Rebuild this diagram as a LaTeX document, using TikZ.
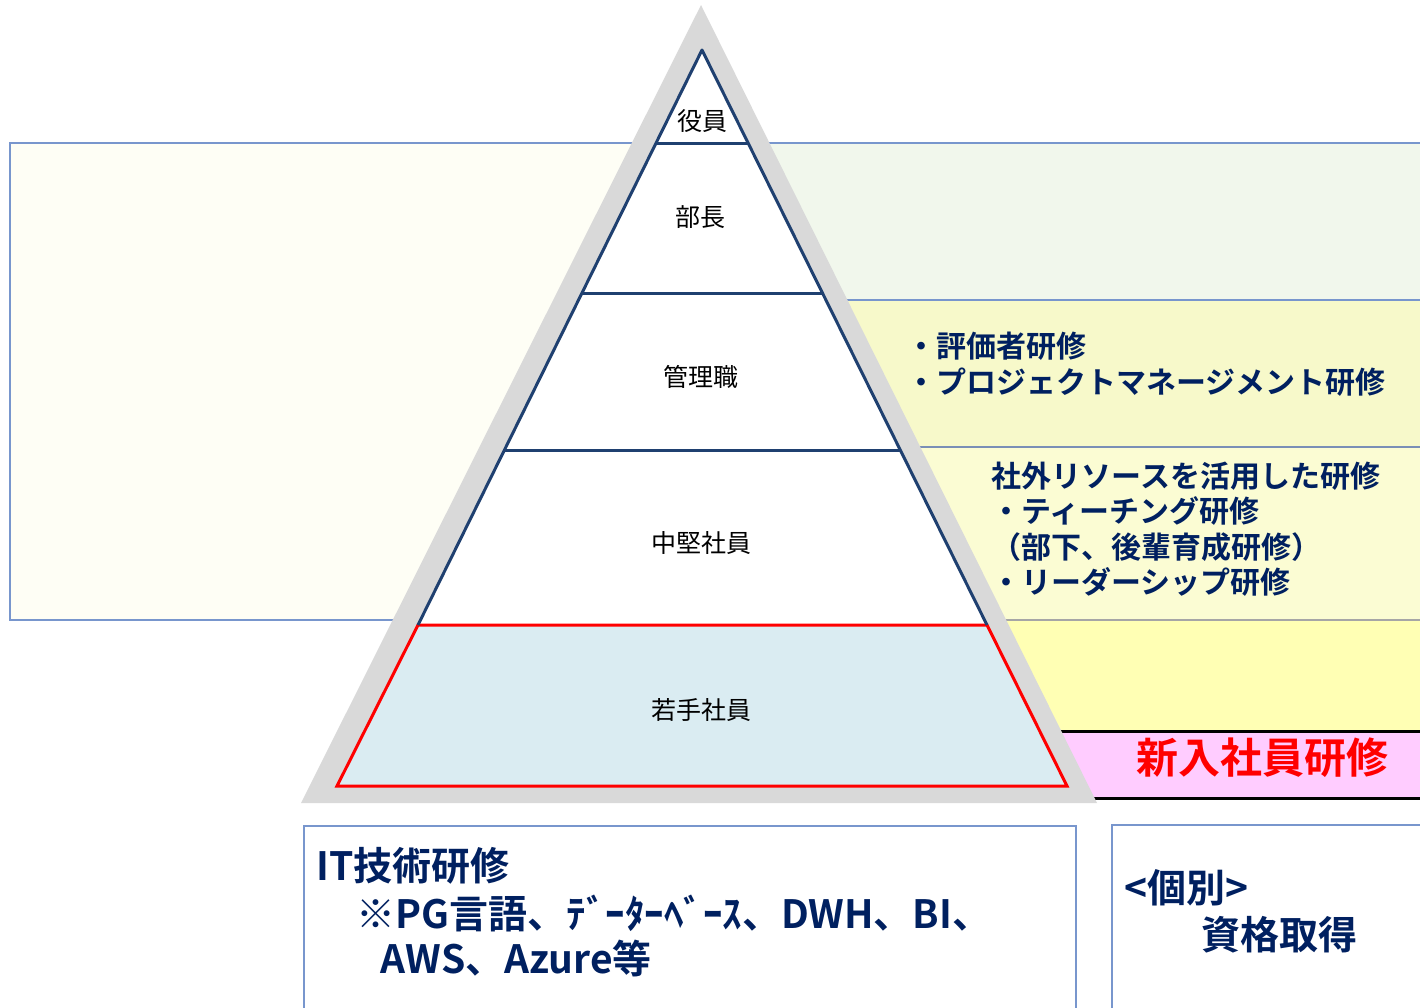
\documentclass[tikz,border=0pt]{standalone}
\usepackage{fontspec}
\setmainfont{Noto Sans CJK JP}[BoldFont={* Bold}]
\usepackage{tikz}

\definecolor{navy}{RGB}{0,32,96}
\definecolor{pyrline}{RGB}{31,64,112}
\definecolor{boxline}{RGB}{120,150,205}
\definecolor{cream}{RGB}{254,254,245}
\definecolor{mintband}{RGB}{241,247,236}
\definecolor{lemonband}{RGB}{247,249,202}
\definecolor{paleband}{RGB}{251,252,211}
\definecolor{yellowband}{RGB}{255,255,180}
\definecolor{pinkband}{RGB}{255,204,255}
\definecolor{juniorfill}{RGB}{218,236,242}
\definecolor{pyrgray}{RGB}{217,217,217}

\tikzset{
  level/.style={font=\fontsize{25}{30}\selectfont, text=black},
  course/.style={anchor=west, align=left, text=navy,
    font=\bfseries\fontsize{30}{35.5}\selectfont},
  techtext/.style={anchor=west, text=navy, font=\bfseries\fontsize{39}{46}\selectfont}
}

\begin{document}
\begin{tikzpicture}[x=1pt,y=-1pt]
  \useasboundingbox (0,0) rectangle (1420,1007);

  % background bands
  \draw[boxline, line width=1.2pt, fill=cream] (10,143) rectangle (702,620);
  \draw[boxline, line width=1.2pt, fill=mintband] (702,143) rectangle (1430,300);
  \draw[boxline, line width=1.2pt, fill=lemonband] (702,300) rectangle (1430,447);
  \draw[boxline!70!gray, line width=1.2pt, fill=paleband] (702,447) rectangle (1430,620);
  \draw[gray!70, line width=1.5pt, fill=yellowband] (702,620) rectangle (1430,731);
  \draw[black, line width=3pt, fill=pinkband] (702,731) rectangle (1430,798);

  % pyramid
  \fill[pyrgray] (701,5) -- (1097,803) -- (301,803) -- cycle;
  \fill[white] (702,50) -- (987,625) -- (418,625) -- cycle;
  \draw[red, line width=3pt, fill=juniorfill]
    (418,625) -- (987,625) -- (1067,786) -- (337,786) -- cycle;
  \draw[pyrline, line width=3pt, line join=round] (418,625) -- (702,50) -- (987,625);
  \draw[pyrline, line width=3pt] (656,143) -- (748,143);
  \draw[pyrline, line width=3pt] (581,293) -- (823,293);
  \draw[pyrline, line width=3pt] (503,450) -- (901,450);

  \node[level] (lvlExec) at (702,121) {役員};
  \node[level] (lvlDirector) at (700,217) {部長};
  \node[level] (lvlManager) at (701,377) {管理職};
  \node[level] (lvlMid) at (701,543) {中堅社員};
  \node[level] (lvlJunior) at (701,710) {若手社員};

  % courses
  \node[course] (mgrCourse) at (903,364) {・評価者研修\\・プロジェクトマネージメント研修};
  \node[course] (midCourse) at (988,529) {社外リソースを活用した研修\\
    ・ティーチング研修\\（部下、後輩育成研修）\\・リーダーシップ研修};
  \node[text=red, font=\bfseries\fontsize{42}{48}\selectfont] (newCourse) at (1262,758) {新入社員研修};

  % bottom boxes
  \draw[boxline, line width=1.2pt] (304,826) rectangle (1076,1015);
  \draw[boxline, line width=1.2pt] (1112,825) rectangle (1430,1015);
  \node[techtext] (itTitle) at (313,866) {IT技術研修};
  \node[techtext] (itList) at (353,913) {※PG言語、ﾃﾞｰﾀｰﾍﾞｰｽ、DWH、BI、};
  \node[techtext] (itCloud) at (377,958) {AWS、Azure等};
  \node[techtext] (indivTitle) at (1121,888) {<個別>};
  \node[techtext] (indivCert) at (1198,935) {資格取得};
\end{tikzpicture}
\end{document}
